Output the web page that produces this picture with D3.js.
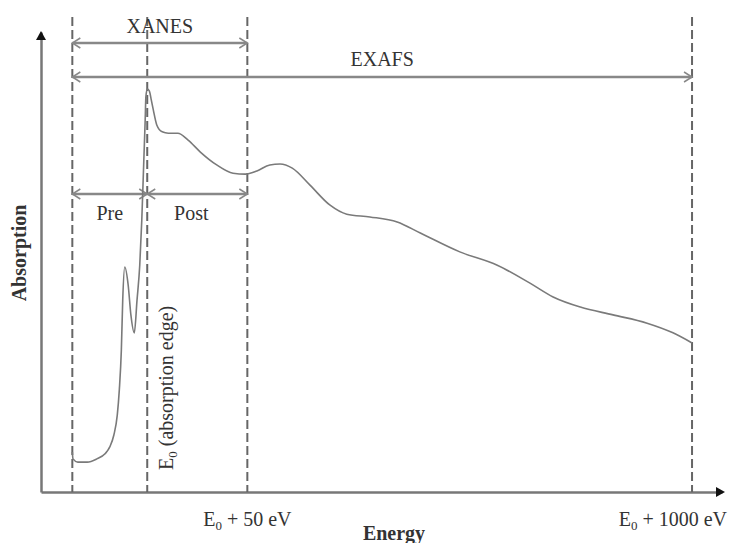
<!DOCTYPE html>
<html>
<head>
<meta charset="utf-8">
<script src="https://d3js.org/d3.v7.min.js"></script>
<style>
body { margin: 0; background: #fff; }
text { font-family: "Liberation Serif", "DejaVu Serif", serif; fill: #333; }
</style>
</head>
<body>
<div id="chart_area"></div>
<script>
// curve (arbitrary units, 0-100 on both axes)
var energy = [4.6, 4.7, 5.4, 6.8, 8.2, 9.4, 10.1, 10.7, 11.2, 11.5, 11.8, 12.0, 12.3, 12.8, 13.2, 13.7,
	14.1, 14.5, 14.8, 15.1, 15.3, 15.4, 15.6, 15.9, 16.2, 16.5, 17.0, 17.8, 18.7, 20.1, 21.6, 23.4,
	25.8, 28.2, 30.0, 31.7, 33.6, 35.1, 36.9, 39.5, 42.4, 44.9, 48.3, 52.3, 55.7, 61.5, 67.0, 71.8,
	75.2, 79.2, 84.0, 89.0, 92.8, 95.6];
var absorption = [8.7, 7.2, 6.5, 6.5, 7.2, 8.3, 9.8, 12.4, 16.7, 22.2, 30.9, 41.7, 48.9, 45.0, 38.5, 34.6,
	41.7, 49.3, 59.1, 72.2, 80.9, 85.9, 87.6, 87.2, 85.2, 83.0, 79.8, 78.3, 78.0, 78.0, 76.5, 73.9,
	71.1, 69.3, 69.1, 69.8, 71.1, 71.3, 70.4, 66.7, 62.4, 60.4, 59.8, 58.7, 56.3, 52.2, 49.3, 45.4,
	42.4, 40.2, 38.5, 36.7, 34.6, 32.4];

// dashed marker lines
var markerEnergy = [4.6, 15.6, 30.3, 95.6];
var markerLabels = ["", "", " + 50 eV", " + 1000 eV"];

// region spans
var spanNames = ["XANES", "EXAFS", "Pre", "Post"];
var spanFrom = [4.6, 4.6, 4.6, 15.6];
var spanTo = [30.3, 95.6, 15.6, 30.3];

var sFrameWidth = 729;
var sFrameHeight = 543;
var sMargin = { top: 32, right: 7, bottom: 51, left: 41 };

var sFrame = d3.select("#chart_area").append("svg")
	.attr("width", sFrameWidth)
	.attr("height", sFrameHeight);

var x = d3.scaleLinear().domain([0, 100]).range([sMargin.left, sFrameWidth - sMargin.right]);
var y = d3.scaleLinear().domain([0, 100]).range([sFrameHeight - sMargin.bottom, sMargin.top]);

//open arrow heads for the spans
sFrame.append("defs").append("marker")
	.attr("id", "chev")
	.attr("viewBox", "-10 -6 12 12")
	.attr("markerUnits", "userSpaceOnUse")
	.attr("markerWidth", 12)
	.attr("markerHeight", 12)
	.attr("refX", 0)
	.attr("refY", 0)
	.attr("orient", "auto-start-reverse")
	.append("path")
	.attr("d", "M-8,-5L0,0L-8,5")
	.attr("fill", "none")
	.attr("stroke", "#888")
	.attr("stroke-width", 1.5);

//axes without ticks
var xAxis = sFrame.append("g")
	.attr("transform", "translate(0," + y(0) + ")")
	.call(d3.axisBottom(x).tickValues([]).tickSizeOuter(0));
var yAxis = sFrame.append("g")
	.attr("transform", "translate(" + x(0) + ",0)")
	.call(d3.axisLeft(y).tickValues([]).tickSizeOuter(0));
sFrame.selectAll(".domain").attr("stroke", "#777").attr("stroke-width", 2.5);

//arrow tips
var xEnd = x(100), yEnd = y(100);
sFrame.append("path")
	.attr("d", "M" + (xEnd + 3) + "," + y(0) + "l-9,-5l0,10z")
	.attr("fill", "#111");
sFrame.append("path")
	.attr("d", "M" + x(0) + "," + (yEnd - 1) + "l-5,9l10,0z")
	.attr("fill", "#111");

//dashed lines
sFrame.selectAll(".marker")
	.data(markerEnergy)
	.enter().append("line")
	.attr("class", "marker")
	.attr("x1", function (d) { return x(d); })
	.attr("x2", function (d) { return x(d); })
	.attr("y1", 17)
	.attr("y2", y(0))
	.attr("stroke", "#666")
	.attr("stroke-width", 2)
	.attr("stroke-dasharray", "9,4");

//spans
var spanLevel = [43, 77, 194, 194];
var spanTextY = [33, 66, 220, 220];
spanNames.forEach(function (name, i) {
	sFrame.append("line")
		.attr("x1", x(spanFrom[i]))
		.attr("x2", x(spanTo[i]))
		.attr("y1", spanLevel[i])
		.attr("y2", spanLevel[i])
		.attr("stroke", "#888")
		.attr("stroke-width", 2.5)
		.attr("marker-start", "url(#chev)")
		.attr("marker-end", "url(#chev)");
	sFrame.append("text")
		.attr("x", (x(spanFrom[i]) + x(spanTo[i])) / 2 - (name == "Post" ? 6 : 0))
		.attr("y", spanTextY[i])
		.attr("text-anchor", "middle")
		.attr("font-size", 20)
		.text(name);
});

//the curve
var line = d3.line()
	.x(function (d, i) { return x(energy[i]); })
	.y(function (d, i) { return y(absorption[i]); })
	.curve(d3.curveMonotoneX);
sFrame.append("path")
	.datum(energy)
	.attr("d", line)
	.attr("fill", "none")
	.attr("stroke", "#7a7a7a")
	.attr("stroke-width", 1.6);

//E0 with subscript
function e0(sel, rest) {
	sel.append("tspan").text("E");
	sel.append("tspan").attr("font-size", 13).attr("dy", 4).text("0");
	sel.append("tspan").attr("dy", -4).text(rest);
}

var edgeLabel = sFrame.append("text")
	.attr("transform", "translate(" + (x(markerEnergy[1]) + 26) + ",470) rotate(-90)")
	.attr("font-size", 20);
e0(edgeLabel, " (absorption edge)");

var lab50 = sFrame.append("text")
	.attr("x", x(markerEnergy[2]))
	.attr("y", 526)
	.attr("text-anchor", "middle")
	.attr("font-size", 20);
e0(lab50, markerLabels[2]);

var lab1000 = sFrame.append("text")
	.attr("x", sFrameWidth - 2)
	.attr("y", 526)
	.attr("text-anchor", "end")
	.attr("font-size", 20);
e0(lab1000, markerLabels[3]);

//axis titles
sFrame.append("text")
	.attr("x", 394)
	.attr("y", 540)
	.attr("text-anchor", "middle")
	.attr("font-size", 20)
	.attr("font-weight", "bold")
	.text("Energy");
sFrame.append("text")
	.attr("transform", "translate(26,253) rotate(-90)")
	.attr("text-anchor", "middle")
	.attr("font-size", 20)
	.attr("font-weight", "bold")
	.text("Absorption");
</script>
</body>
</html>
